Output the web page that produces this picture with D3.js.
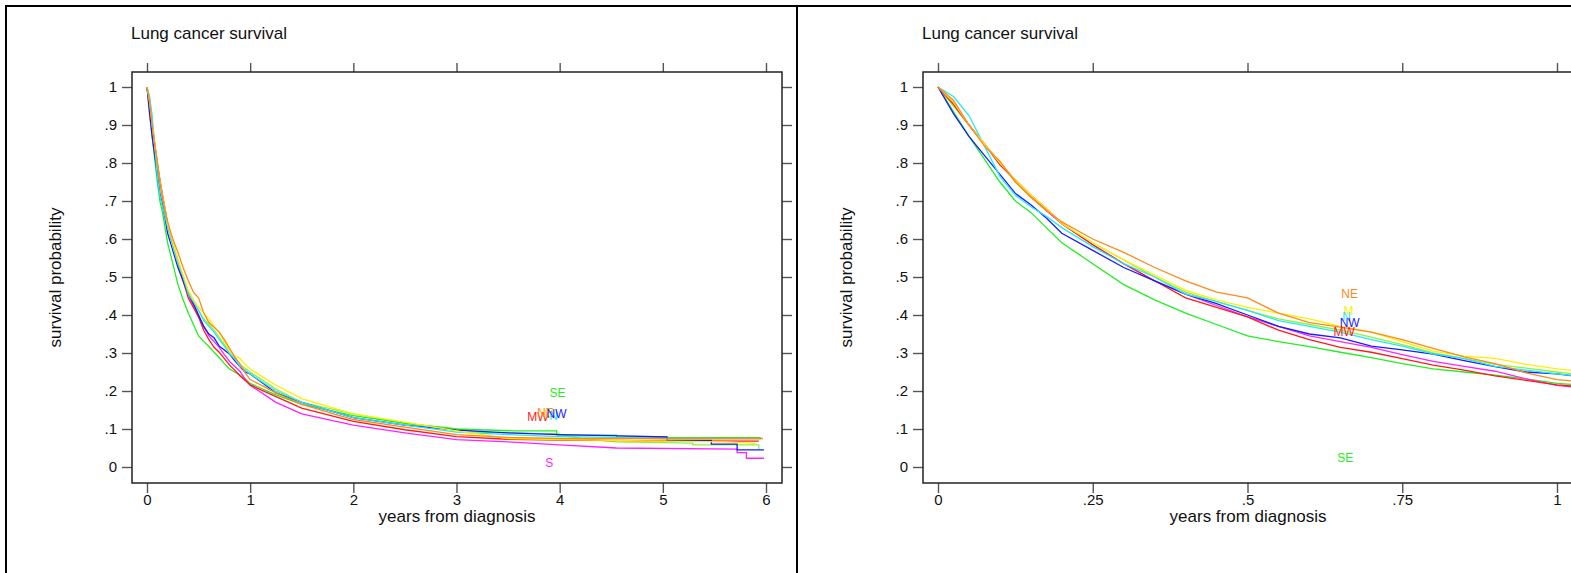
<!DOCTYPE html>
<html>
<head>
<meta charset="utf-8">
<script src="https://cdn.jsdelivr.net/npm/d3@7"></script>
<style>
  body { margin: 0; background: #fff; }
  svg { display: block; font-family: "Liberation Sans", Arial, sans-serif; }
</style>
</head>
<body>
<svg id="chart" width="1571" height="573"></svg>
<script>
// sample times for the first year (years from diagnosis)
const TIMES_Y1 = [0, .025, .05, .075, .1, .125, .15, .175, .2, .25, .3, .35, .4, .45, .5, .55, .6, .65, .7, .75, .8, .85, .9, .95, 1];

// survival over the first year, one value per TIMES_Y1 entry
const NE_Y1 = [1, .965, .9, .845, .805, .75, .71, .675, .645, .6, .565, .525, .49, .46, .445, .405, .38, .368, .355, .335, .312, .29, .272, .248, .23];
const M_Y1  = [1, .96, .9, .85, .8, .755, .715, .68, .64, .59, .545, .505, .465, .44, .42, .405, .39, .37, .355, .33, .305, .292, .286, .27, .258];
const N_Y1  = [1, .975, .925, .845, .765, .715, .685, .66, .63, .58, .535, .5, .455, .435, .412, .385, .37, .355, .335, .318, .298, .285, .265, .255, .245];
const NW_Y1 = [1, .93, .87, .82, .77, .72, .69, .655, .615, .57, .525, .49, .455, .43, .4, .37, .35, .34, .318, .308, .297, .28, .264, .25, .245];
const MW_Y1 = [1, .955, .9, .85, .795, .755, .715, .68, .64, .585, .535, .49, .445, .42, .395, .36, .335, .315, .302, .285, .268, .255, .24, .228, .216];
const SE_Y1 = [1, .935, .87, .81, .75, .7, .67, .63, .59, .535, .48, .44, .405, .375, .345, .33, .317, .302, .288, .272, .258, .25, .242, .232, .22];
const S_Y1  = [1, .955, .9, .85, .8, .755, .715, .675, .64, .585, .535, .49, .455, .425, .395, .37, .345, .33, .315, .296, .278, .265, .252, .232, .215];
const E_Y1  = [1, .95, .9, .85, .8, .75, .71, .675, .64, .59, .545, .5, .46, .435, .412, .39, .375, .36, .342, .322, .3, .285, .27, .26, .25];

// survival after the first year, [years, survival]; repeated years are steps
const NE_TAIL = [[1.25, .195], [1.5, .165], [2, .125], [2.5, .105], [3, .085], [3.5, .078], [4, .075], [5, .075], [5.97, .075]];
const M_TAIL  = [[1.25, .215], [1.5, .18], [2, .14], [2.5, .118], [3, .095], [3.5, .075], [4, .072], [4.5, .07], [5, .068], [5.6, .066], [5.9, .062]];
const N_TAIL  = [[1.25, .2], [1.5, .17], [2, .13], [2.5, .11], [3, .092], [3.5, .085], [4, .08], [4.5, .078], [5, .074], [5.95, .074]];
const NW_TAIL = [[1.25, .195], [1.5, .17], [2, .13], [2.5, .11], [3, .097], [3.5, .09], [4, .085], [4.6, .082], [5.04, .079], [5.04, .07], [5.47, .07], [5.47, .06], [5.72, .06], [5.72, .045], [5.98, .045]];
const MW_TAIL = [[1.25, .185], [1.5, .155], [2, .12], [2.5, .098], [3, .08], [3.5, .073], [4, .071], [5, .069], [5.93, .068]];
const SE_TAIL = [[1.25, .19], [1.5, .165], [2, .135], [2.5, .115], [3, .1], [3.57, .095], [3.97, .095], [3.97, .084], [4.55, .084], [4.55, .079], [5.04, .079], [5.04, .077], [5.95, .077]];
const S_TAIL  = [[1.25, .17], [1.5, .14], [2, .11], [2.5, .09], [3, .072], [3.5, .066], [4, .058], [4.55, .05], [5.72, .047], [5.72, .038], [5.81, .038], [5.81, .023], [5.98, .023]];
const E_TAIL  = [[1.25, .205], [1.5, .17], [2, .14], [2.5, .115], [3, .1], [3.23, .091], [3.97, .088], [4.2, .075], [4.55, .066], [5.29, .063], [5.29, .058], [5.93, .058], [5.93, .047]];

const SERIES = [
  { name: "E",  color: "#8ef23a", y1: E_Y1,  tail: E_TAIL },
  { name: "SE", color: "#22ee22", y1: SE_Y1, tail: SE_TAIL },
  { name: "S",  color: "#ff22ff", y1: S_Y1,  tail: S_TAIL },
  { name: "MW", color: "#ff1a1a", y1: MW_Y1, tail: MW_TAIL },
  { name: "NW", color: "#1a1aff", y1: NW_Y1, tail: NW_TAIL },
  { name: "N",  color: "#22e8ff", y1: N_Y1,  tail: N_TAIL },
  { name: "M",  color: "#ffee00", y1: M_Y1,  tail: M_TAIL },
  { name: "NE", color: "#ff8a1a", y1: NE_Y1, tail: NE_TAIL }
];

// region labels: [text, years, survival]
const LABELS_LEFT = [["SE", 3.98, .195], ["MW", 3.79, .132], ["NE", 3.86, .142], ["M", 3.9, .14], ["N", 3.94, .134], ["NW", 3.97, .139], ["S", 3.9, .01]];
const LABELS_RIGHT = [["NE", .665, .455], ["M", .663, .41], ["N", .66, .395], ["NW", .665, .379], ["MW", .656, .355], ["SE", .658, .024]];

const Y_TICKS = [0, .1, .2, .3, .4, .5, .6, .7, .8, .9, 1];
const X_TICKS_LEFT = [0, 1, 2, 3, 4, 5, 6];
const X_TICKS_RIGHT = [0, .25, .5, .75, 1];

const COLOR_OF = Object.fromEntries(SERIES.map(s => [s.name, s.color]));

const fmt = d => d === 0 ? "0" : d === 1 ? "1" : String(+d.toFixed(2)).replace(/^0/, "");

const svg = d3.select("#chart");

// outer frames of the two graphs
svg.append("rect").attr("x", 6).attr("y", 6).attr("width", 791).attr("height", 620)
  .attr("fill", "none").attr("stroke", "#000").attr("stroke-width", 2);
svg.append("rect").attr("x", 797).attr("y", 6).attr("width", 791).attr("height", 620)
  .attr("fill", "none").attr("stroke", "#000").attr("stroke-width", 2);

function drawPanel(left, xMax, xTicks, labels, id) {
  const boxL = left + 126, boxR = left + 776;
  const boxT = 72, boxB = 483;
  const x = d3.scaleLinear().domain([0, xMax]).range([boxL + 15, boxR - 16]);
  const y = d3.scaleLinear().domain([0, 1]).range([467, 87]);
  const g = svg.append("g");

  g.append("clipPath").attr("id", id).append("rect")
    .attr("x", boxL).attr("y", boxT).attr("width", boxR - boxL).attr("height", boxB - boxT);

  g.append("text").attr("x", left + 125).attr("y", 39)
    .style("font-size", "17px").attr("fill", "#111").text("Lung cancer survival");

  const styleAxis = sel => {
    sel.select(".domain").remove();
    sel.selectAll(".tick line").attr("stroke", "#555").attr("stroke-width", 1.4);
    sel.selectAll(".tick text").style("font-size", "15px").attr("fill", "#111")
      .style("font-family", "'Liberation Sans', Arial, sans-serif");
  };

  g.append("g").attr("transform", `translate(${boxL},0)`)
    .call(d3.axisLeft(y).tickValues(Y_TICKS).tickFormat(fmt).tickSize(10).tickPadding(5))
    .call(styleAxis);
  g.append("g").attr("transform", `translate(${boxR},0)`)
    .call(d3.axisRight(y).tickValues(Y_TICKS).tickFormat("").tickSize(10))
    .call(styleAxis);
  g.append("g").attr("transform", `translate(0,${boxB})`)
    .call(d3.axisBottom(x).tickValues(xTicks).tickFormat(fmt).tickSize(10).tickPadding(1))
    .call(styleAxis);
  g.append("g").attr("transform", `translate(0,${boxT})`)
    .call(d3.axisTop(x).tickValues(xTicks).tickFormat("").tickSize(9))
    .call(styleAxis);

  g.append("rect").attr("x", boxL).attr("y", boxT).attr("width", boxR - boxL).attr("height", boxB - boxT)
    .attr("fill", "none").attr("stroke", "#222").attr("stroke-width", 1.5);

  g.append("text").attr("x", (boxL + boxR) / 2).attr("y", 522).attr("text-anchor", "middle")
    .style("font-size", "17px").attr("fill", "#111").text("years from diagnosis");
  g.append("text").attr("transform", `translate(${left + 55},${(boxT + boxB) / 2}) rotate(-90)`)
    .attr("text-anchor", "middle").style("font-size", "17px").attr("fill", "#111")
    .text("survival probability");

  const line = d3.line().x(d => x(d[0])).y(d => y(d[1]));
  g.append("g").attr("clip-path", `url(#${id})`)
    .selectAll("path").data(SERIES).join("path")
    .attr("d", s => line(TIMES_Y1.map((t, i) => [t, s.y1[i]]).concat(s.tail)))
    .attr("fill", "none").attr("stroke", s => s.color).attr("stroke-width", 1.3);

  g.append("g").selectAll("text").data(labels).join("text")
    .attr("x", d => x(d[1])).attr("y", d => y(d[2])).attr("dy", "0.35em")
    .attr("text-anchor", "middle").style("font-size", "12px")
    .attr("fill", d => COLOR_OF[d[0]]).text(d => d[0]);
}

drawPanel(6, 6, X_TICKS_LEFT, LABELS_LEFT, "clipL");
drawPanel(797, 1, X_TICKS_RIGHT, LABELS_RIGHT, "clipR");
</script>
</body>
</html>
